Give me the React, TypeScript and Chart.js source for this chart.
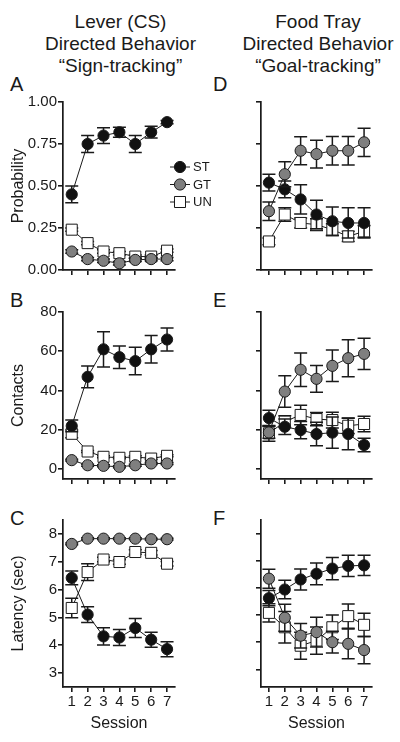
import React, { useEffect, useRef } from 'react';
import { Chart, registerables } from 'chart.js';

Chart.register(...registerables);

// ---------------- data ----------------
const sessions = [1, 2, 3, 4, 5, 6, 7];
const probabilityTicks = [0, 0.25, 0.5, 0.75, 1];
const contactTicks = [0, 20, 40, 60, 80];
const latencyTicks = [3, 4, 5, 6, 7, 8];
const groupLabels = ['ST', 'GT', 'UN'];

// A: lever probability
const leverProbST = [0.45, 0.75, 0.8, 0.82, 0.75, 0.82, 0.88];
const leverProbSTErr = [0.05, 0.05, 0.047, 0.03, 0.05, 0.035, 0.01];
const leverProbGT = [0.11, 0.065, 0.055, 0.04, 0.06, 0.065, 0.065];
const leverProbGTErr = [0.01, 0.01, 0.01, 0.01, 0.01, 0.01, 0.01];
const leverProbUN = [0.24, 0.16, 0.11, 0.1, 0.08, 0.08, 0.115];
const leverProbUNErr = [0.01, 0.01, 0.01, 0.01, 0.01, 0.01, 0.01];

// B: lever contacts
const leverContST = [22, 47, 61, 57, 55, 61, 66];
const leverContSTErr = [3, 5.5, 9, 5.7, 7, 7, 5.8];
const leverContGT = [4.6, 2.0, 1.7, 1.2, 2.0, 2.9, 2.9];
const leverContGTErr = [0.5, 0.5, 0.5, 0.5, 0.5, 0.5, 0.5];
const leverContUN = [18, 9, 6.3, 5.8, 6.3, 5.4, 6.8];
const leverContUNErr = [2, 0.5, 0.5, 0.5, 0.5, 0.5, 0.5];

// C: lever latency
const leverLatST = [6.42, 5.1, 4.32, 4.28, 4.62, 4.2, 3.86];
const leverLatSTErr = [0.25, 0.28, 0.31, 0.29, 0.34, 0.27, 0.27];
const leverLatGT = [7.64, 7.83, 7.83, 7.83, 7.83, 7.81, 7.81];
const leverLatGTErr = [0.03, 0.03, 0.03, 0.03, 0.03, 0.03, 0.03];
const leverLatUN = [5.34, 6.63, 7.08, 6.99, 7.35, 7.32, 6.93];
const leverLatUNErr = [0.35, 0.3, 0.08, 0.08, 0.08, 0.08, 0.08];

// D: food tray probability
const trayProbST = [0.52, 0.48, 0.42, 0.33, 0.29, 0.28, 0.28];
const trayProbSTErr = [0.05, 0.05, 0.087, 0.085, 0.085, 0.09, 0.09];
const trayProbGT = [0.35, 0.57, 0.71, 0.69, 0.71, 0.71, 0.76];
const trayProbGTErr = [0.055, 0.075, 0.083, 0.083, 0.085, 0.085, 0.084];
const trayProbUN = [0.17, 0.33, 0.28, 0.27, 0.24, 0.2, 0.23];
const trayProbUNErr = [0.02, 0.04, 0.03, 0.035, 0.035, 0.03, 0.035];

// E: food tray contacts
const trayContST = [26, 21.6, 19.9, 17.9, 18.6, 17.9, 12.3];
const trayContSTErr = [4, 4, 4.4, 6, 8, 8, 3.4];
const trayContGT = [18.7, 39.5, 50.6, 46.0, 52.6, 56.5, 58.7];
const trayContGTErr = [3, 8, 8.5, 6.8, 8, 9.4, 8];
const trayContUN = [18.2, 24.2, 27.6, 25.5, 25, 22.1, 23];
const trayContUNErr = [4, 3, 5, 3.4, 4, 4, 4];

// F: food tray latency
const trayLatST = [5.62, 5.94, 6.31, 6.52, 6.71, 6.81, 6.83];
const trayLatSTErr = [0.28, 0.34, 0.39, 0.4, 0.41, 0.39, 0.37];
const trayLatGT = [6.34, 4.9, 4.24, 4.37, 4.0, 3.94, 3.71];
const trayLatGTErr = [0.35, 0.5, 0.45, 0.55, 0.4, 0.55, 0.5];
const trayLatUN = [5.08, 4.55, 3.87, 4.06, 4.55, 4.96, 4.64];
const trayLatUNErr = [0.34, 0.58, 0.5, 0.5, 0.45, 0.45, 0.43];

// ---------------- styling / layout ----------------
const FONT = '"Liberation Sans", Arial, Helvetica, sans-serif';
const INK = '#1a1a1a';
const ST_FILL = '#111111';
const GT_FILL = '#7f7f7f';
const UN_FILL = '#ffffff';

const ROW_TOP = [102, 312, 520];
const ROW_BOTTOM = [270, 479, 687];
const COL_LEFT = [63, 261];
const COL_RIGHT = [175, 372];
const COL_CANVAS = [0, 200];
const COL_XMIN = [0.45, 0.5];
const XMAX = 7.5;
const PAD_TOP = 14;

type Grp = 'ST' | 'GT' | 'UN';
interface SeriesDef { group: Grp; values: number[]; errors: number[] }
interface PanelDef {
  letter: string; col: number; row: number;
  yMin: number; yMax: number; yTicks: number[]; decimals: number;
  yTitle: string | null; series: SeriesDef[]; legend?: boolean;
}

const panels: PanelDef[] = [
  { letter: 'A', col: 0, row: 0, yMin: 0, yMax: 1, yTicks: probabilityTicks, decimals: 2, yTitle: 'Probability', legend: true,
    series: [
      { group: 'ST', values: leverProbST, errors: leverProbSTErr },
      { group: 'GT', values: leverProbGT, errors: leverProbGTErr },
      { group: 'UN', values: leverProbUN, errors: leverProbUNErr },
    ] },
  { letter: 'B', col: 0, row: 1, yMin: -5, yMax: 80, yTicks: contactTicks, decimals: 0, yTitle: 'Contacts',
    series: [
      { group: 'ST', values: leverContST, errors: leverContSTErr },
      { group: 'GT', values: leverContGT, errors: leverContGTErr },
      { group: 'UN', values: leverContUN, errors: leverContUNErr },
    ] },
  { letter: 'C', col: 0, row: 2, yMin: 2.5, yMax: 8.5, yTicks: latencyTicks, decimals: 0, yTitle: 'Latency (sec)',
    series: [
      { group: 'ST', values: leverLatST, errors: leverLatSTErr },
      { group: 'GT', values: leverLatGT, errors: leverLatGTErr },
      { group: 'UN', values: leverLatUN, errors: leverLatUNErr },
    ] },
  { letter: 'D', col: 1, row: 0, yMin: 0, yMax: 1, yTicks: probabilityTicks, decimals: 2, yTitle: null,
    series: [
      { group: 'ST', values: trayProbST, errors: trayProbSTErr },
      { group: 'GT', values: trayProbGT, errors: trayProbGTErr },
      { group: 'UN', values: trayProbUN, errors: trayProbUNErr },
    ] },
  { letter: 'E', col: 1, row: 1, yMin: -5, yMax: 80, yTicks: contactTicks, decimals: 0, yTitle: null,
    series: [
      { group: 'ST', values: trayContST, errors: trayContSTErr },
      { group: 'GT', values: trayContGT, errors: trayContGTErr },
      { group: 'UN', values: trayContUN, errors: trayContUNErr },
    ] },
  { letter: 'F', col: 1, row: 2, yMin: 2.35, yMax: 8.5, yTicks: latencyTicks, decimals: 0, yTitle: null,
    series: [
      { group: 'ST', values: trayLatST, errors: trayLatSTErr },
      { group: 'GT', values: trayLatGT, errors: trayLatGTErr },
      { group: 'UN', values: trayLatUN, errors: trayLatUNErr },
    ] },
];

const GROUP_STYLE: Record<Grp, { fill: string; shape: 'circle' | 'rect'; radius: number; order: number }> = {
  ST: { fill: ST_FILL, shape: 'circle', radius: 5.6, order: 1 },
  GT: { fill: GT_FILL, shape: 'circle', radius: 5.6, order: 0 },
  UN: { fill: UN_FILL, shape: 'rect', radius: 7.8, order: 2 },
};

const errorBarPlugin = {
  id: 'errorBars',
  beforeDatasetDraw(chart: any, args: any) {
    const ds: any = chart.data.datasets[args.index];
    const errs: number[] | undefined = ds.errors;
    if (!errs) return;
    const ys = chart.scales.y;
    const ctx = chart.ctx;
    ctx.save();
    ctx.strokeStyle = INK;
    ctx.lineWidth = 1.5;
    args.meta.data.forEach((pt: any, i: number) => {
      const v = ds.data[i].y;
      const e = errs[i];
      const x = pt.x;
      const y1 = ys.getPixelForValue(v + e);
      const y2 = ys.getPixelForValue(v - e);
      const cap = 6.5;
      ctx.beginPath();
      ctx.moveTo(x, y1); ctx.lineTo(x, y2);
      ctx.moveTo(x - cap, y1); ctx.lineTo(x + cap, y1);
      ctx.moveTo(x - cap, y2); ctx.lineTo(x + cap, y2);
      ctx.stroke();
    });
    ctx.restore();
  },
};

// legend marker positions (page px)
const LEGEND_X = 180;
const LEGEND_Y = [167, 184.5, 202];

const legendPlugin = {
  id: 'groupLegend',
  afterDraw(chart: any) {
    const ctx = chart.ctx;
    const ca = chart.chartArea;
    const plotTop = ROW_TOP[0];
    groupLabels.forEach((g, i) => {
      const st = GROUP_STYLE[g as Grp];
      const x = LEGEND_X - COL_CANVAS[0];
      const y = ca.top + (LEGEND_Y[i] - plotTop);
      ctx.save();
      ctx.strokeStyle = INK;
      ctx.lineWidth = 1;
      ctx.beginPath();
      ctx.moveTo(x - 10, y); ctx.lineTo(x + 10, y);
      ctx.stroke();
      ctx.beginPath();
      if (st.shape === 'rect') {
        const h = st.radius * Math.SQRT1_2;
        ctx.rect(x - h, y - h, 2 * h, 2 * h);
      } else {
        ctx.arc(x, y, st.radius, 0, Math.PI * 2);
      }
      ctx.fillStyle = st.fill;
      ctx.fill();
      ctx.stroke();
      ctx.fillStyle = INK;
      ctx.font = `13px ${FONT}`;
      ctx.textAlign = 'left';
      ctx.textBaseline = 'middle';
      ctx.fillText(g, x + 13, y + 0.5);
      ctx.restore();
    });
  },
};

function PanelChart({ p }: { p: PanelDef }) {
  const ref = useRef<HTMLCanvasElement>(null);
  const canvasLeft = COL_CANVAS[p.col];
  const plotLeft = COL_LEFT[p.col];
  const plotRight = COL_RIGHT[p.col];
  const plotTop = ROW_TOP[p.row];
  const plotBottom = ROW_BOTTOM[p.row];
  const wy = plotLeft - canvasLeft;
  const hx = p.row === 2 ? 46 : 14;
  const padRight = p.legend ? 55 : 10;
  const width = plotRight - canvasLeft + padRight;
  const height = PAD_TOP + (plotBottom - plotTop) + hx;
  const top = plotTop - PAD_TOP;

  useEffect(() => {
    if (!ref.current) return;
    const showY = p.col === 0;
    const showX = p.row === 2;
    const datasets = p.series.map((s) => {
      const st = GROUP_STYLE[s.group];
      return {
        label: s.group,
        data: sessions.map((x, i) => ({ x, y: s.values[i] })),
        errors: s.errors,
        borderColor: INK,
        borderWidth: 1,
        pointStyle: st.shape,
        pointRadius: st.radius,
        pointBackgroundColor: st.fill,
        pointBorderColor: INK,
        pointBorderWidth: 1,
        tension: 0,
        order: st.order,
        clip: false,
      } as any;
    });
    const gridOpts = {
      display: true,
      drawOnChartArea: false,
      drawTicks: true,
      tickLength: 5,
      color: INK,
      lineWidth: 1.6,
    };
    const borderOpts = { display: true, color: INK, width: 1.7 };
    const chart = new Chart(ref.current, {
      type: 'line',
      data: { datasets },
      options: {
        animation: false,
        responsive: false,
        devicePixelRatio: 1,
        layout: { padding: { top: PAD_TOP, right: padRight, bottom: 0, left: 0 } },
        plugins: { legend: { display: false }, tooltip: { enabled: false }, title: { display: false } },
        scales: {
          x: {
            type: 'linear',
            min: COL_XMIN[p.col],
            max: XMAX,
            afterBuildTicks: (s: any) => { s.ticks = sessions.map((v) => ({ value: v })); },
            afterFit: (s: any) => { s.height = hx; },
            grid: gridOpts,
            border: borderOpts,
            ticks: {
              display: showX,
              autoSkip: false,
              maxRotation: 0,
              padding: 1,
              color: INK,
              font: { family: FONT, size: 15 },
              callback: (v: any) => String(v),
            },
            title: {
              display: showX,
              text: 'Session',
              color: INK,
              font: { family: FONT, size: 16 },
              padding: { top: 0, bottom: 0 },
            },
          },
          y: {
            type: 'linear',
            min: p.yMin,
            max: p.yMax,
            afterBuildTicks: (s: any) => { s.ticks = p.yTicks.map((v) => ({ value: v })); },
            afterFit: (s: any) => { s.width = wy; },
            grid: gridOpts,
            border: borderOpts,
            ticks: {
              display: showY,
              padding: 1,
              color: INK,
              font: { family: FONT, size: 15 },
              callback: (v: any) => Number(v).toFixed(p.decimals),
            },
            title: {
              display: !!p.yTitle,
              text: p.yTitle || '',
              color: INK,
              font: { family: FONT, size: 16 },
              padding: { top: 9, bottom: 0 },
            },
          },
        },
      } as any,
      plugins: p.legend ? [errorBarPlugin, legendPlugin] : [errorBarPlugin],
    });
    return () => chart.destroy();
  }, []);

  return (
    <canvas
      ref={ref}
      width={width}
      height={height}
      style={{ position: 'absolute', left: canvasLeft, top, width, height }}
    />
  );
}

const titleStyle: React.CSSProperties = {
  position: 'absolute',
  top: 11,
  fontFamily: FONT,
  fontSize: 19,
  lineHeight: '22px',
  color: INK,
  textAlign: 'center',
  whiteSpace: 'nowrap',
};

const letterStyle: React.CSSProperties = {
  position: 'absolute',
  fontFamily: FONT,
  fontSize: 20,
  lineHeight: '20px',
  color: INK,
};

const LETTER_TOP = [74, 290, 508];
const LETTER_LEFT = [10, 213];

export default function App() {
  return (
    <div style={{ position: 'absolute', left: 0, top: 0, width: 400, height: 742, background: '#fff', overflow: 'hidden' }}>
      <div style={{ ...titleStyle, left: 0, width: 241 }}>
        Lever (CS)<br />Directed Behavior<br />“Sign-tracking”
      </div>
      <div style={{ ...titleStyle, left: 236, width: 164 }}>
        Food Tray<br />Directed Behavior<br />“Goal-tracking”
      </div>
      {panels.map((p) => (
        <div key={'l' + p.letter} style={{ ...letterStyle, left: LETTER_LEFT[p.col], top: LETTER_TOP[p.row] }}>
          {p.letter}
        </div>
      ))}
      {panels.map((p) => (
        <PanelChart key={p.letter} p={p} />
      ))}
    </div>
  );
}
